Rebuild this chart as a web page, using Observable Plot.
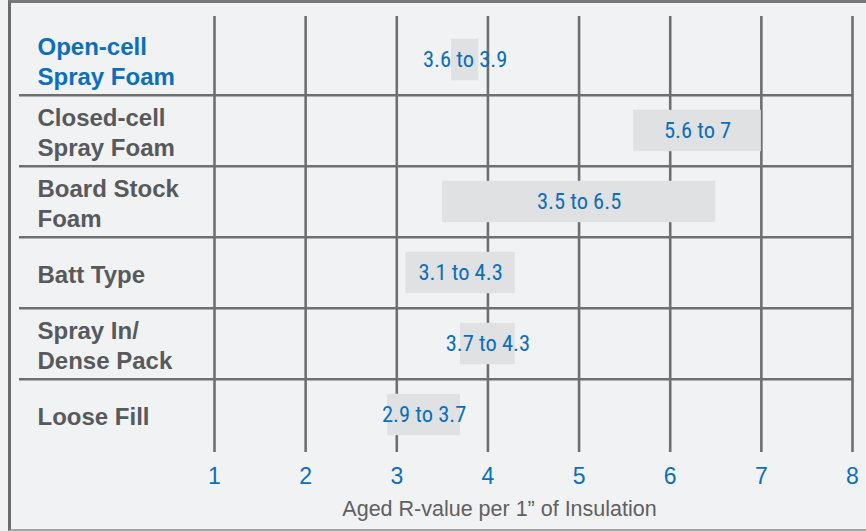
<!DOCTYPE html>
<html>
<head>
<meta charset="utf-8">
<script src="https://cdn.jsdelivr.net/npm/d3@7"></script>
<script src="https://cdn.jsdelivr.net/npm/@observablehq/plot@0.6"></script>
<style>
  html, body { margin: 0; padding: 0; background: #f1f2f4; }
  #wrap { position: relative; width: 866px; height: 531px; overflow: hidden; background: #f1f2f4; }
  #frame { position: absolute; left: 8px; top: 0; width: 900px; height: 526px;
           border-top: 3px solid #78797b; border-left: 3px solid #6b6c6f; border-bottom: 2px solid #a3a4a6; }
  #wrap svg { position: absolute; left: 0; top: 0; }
</style>
</head>
<body>
<div id="wrap"><div id="frame"></div></div>
<script>
const categories = [
  "Open-cell\nSpray Foam",
  "Closed-cell\nSpray Foam",
  "Board Stock\nFoam",
  "Batt Type",
  "Spray In/\nDense Pack",
  "Loose Fill"
];
const lowValues  = [3.6, 5.6, 3.5, 3.1, 3.7, 2.9];
const highValues = [3.9, 7,   6.5, 4.3, 4.3, 3.7];
const xTicks = [1, 2, 3, 4, 5, 6, 7, 8];
const xLabel = "Aged R-value per 1\u201D of Insulation";

const data = categories.map((c, i) => ({cat: c, lo: lowValues[i], hi: highValues[i]}));

const blue = "#0b6fba";
const gray = "#58595c";
const W = 866, H = 531;
const mTop = 16, mBottom = 79, mLeft = 214, mRight = 14;
const yRange = [22.5, H - mBottom];
const bw = (yRange[1] - yRange[0]) / categories.length;

const chart = Plot.plot({
  width: W,
  height: H,
  marginTop: mTop,
  marginBottom: mBottom,
  marginLeft: mLeft,
  marginRight: mRight,
  style: {background: "transparent", overflow: "visible"},
  x: {domain: [1, 8], axis: null},
  y: {domain: categories, range: yRange, padding: 0, axis: null},
  marks: [
    Plot.ruleX(xTicks, {x: d => d, stroke: "#6e6f71", strokeWidth: 2.6}),
    Plot.ruleY(categories.slice(1), {y: d => d, dy: -bw / 2, insetLeft: 19 - mLeft, stroke: "#6e6f71", strokeWidth: 2.6}),
    Plot.barX(data, {x1: "lo", x2: "hi", y: "cat", fill: "#e0e1e3", insetTop: (bw - 42) / 2, insetBottom: (bw - 42) / 2}),
    Plot.text(data, {
      x: d => (d.lo + d.hi) / 2, y: "cat",
      text: d => `${d.lo} to ${d.hi}`,
      fill: blue, fontSize: 22.5,
      fontFamily: "'Liberation Sans Narrow', 'Roboto Condensed', 'DejaVu Sans Condensed', sans-serif",
      lineAnchor: "middle"
    }),
    Plot.text(categories, {
      y: d => d, text: d => d,
      frameAnchor: "left", dx: 37 - mLeft, dy: 0,
      textAnchor: "start", lineAnchor: "middle", lineHeight: 1.25,
      fontSize: 24, fontWeight: "bold",
      fontFamily: "'Liberation Sans', Arial, sans-serif",
      fill: (d, i) => i === 0 ? blue : gray
    }),
    Plot.text(xTicks, {
      x: d => d, text: d => String(d),
      frameAnchor: "bottom", dy: 24, lineAnchor: "middle",
      fontSize: 23, fill: blue,
      fontFamily: "'Liberation Sans', Arial, sans-serif"
    }),
    Plot.text([xLabel], {
      text: d => d,
      frameAnchor: "bottom", dx: -34, dy: 56.5, lineAnchor: "middle",
      fontSize: 21.5, fill: "#5f6062",
      fontFamily: "'Liberation Sans', Arial, sans-serif"
    })
  ]
});
document.getElementById("wrap").appendChild(chart);
</script>
</body>
</html>
